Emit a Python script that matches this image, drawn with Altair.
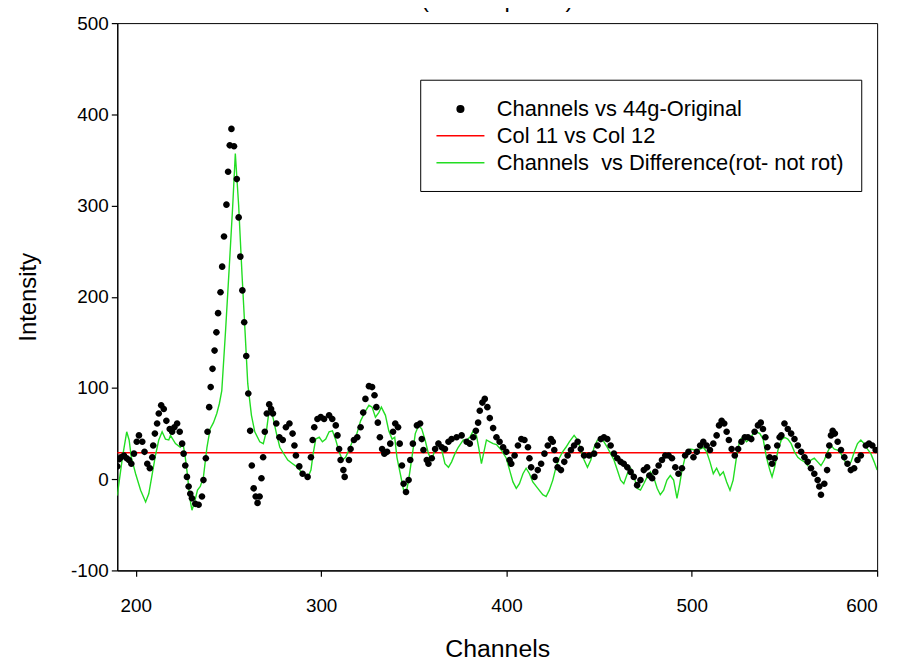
import altair as alt
import pandas as pd

S1 = "Channels vs 44g-Original"
S2 = "Col 11 vs Col 12"
S3 = "Channels\u00a0 vs Difference(rot- not rot)"

x_ticks = [200, 300, 400, 500, 600]
y_ticks = [-100, 0, 100, 200, 300, 400, 500]

dot_ch = [190.0, 191.0, 192.0, 193.6, 195.1, 196.3, 197.6, 199.0, 200.5, 201.7, 203.5, 204.7, 206.2, 207.6, 208.9, 209.4, 210.3, 211.5, 212.4, 213.7,
          215.1, 216.5, 218.3, 219.6, 220.8, 222.3, 223.7, 225.0, 225.8, 226.7, 227.6, 228.5, 229.4, 230.3, 232.1, 233.9, 235.7, 236.5, 237.8, 238.7,
          239.6, 240.4, 241.4, 242.5, 243.5, 244.4, 245.7, 246.6, 247.6, 248.9, 249.8, 250.7, 251.6, 253.0, 254.5, 255.5, 256.4, 257.5, 258.5, 259.6,
          260.7, 261.7, 262.6, 263.6, 264.7, 265.7, 266.8, 267.8, 268.7, 269.6, 270.7, 272.0, 273.0, 274.0, 275.8, 277.5, 279.3, 281.0, 282.9, 284.6,
          285.6, 286.4, 288.2, 290.0, 292.7, 294.5, 295.4, 296.3, 298.0, 299.8, 301.6, 304.3, 306.0, 307.9, 308.8, 309.7, 310.5, 312.0, 312.7, 315.0,
          315.9, 317.7, 319.5, 321.3, 322.7, 323.9, 325.8, 327.5, 328.8, 329.8, 330.6, 331.7, 332.9, 334.1, 335.6, 337.3, 338.8, 340.0, 341.5, 342.4,
          343.6, 344.5, 345.8, 347.2, 348.1, 349.5, 351.7, 353.4, 354.3, 355.2, 357.0, 357.9, 359.7, 361.5, 363.3, 365.1, 366.8, 368.7, 370.4, 373.1,
          375.8, 378.5, 380.2, 382.1, 383.5, 384.7, 385.6, 387.0, 388.3, 389.7, 391.0, 392.8, 394.6, 396.3, 398.2, 399.9, 401.7, 402.6, 404.4, 406.2,
          408.0, 409.7, 411.6, 412.4, 413.3, 415.1, 416.9, 418.7, 420.5, 422.3, 424.0, 425.0, 425.8, 426.7, 427.6, 429.4, 431.2, 433.0, 434.8, 436.5,
          438.4, 440.1, 441.9, 444.6, 447.3, 449.1, 450.9, 452.6, 454.4, 456.2, 458.0, 459.8, 461.6, 463.3, 465.2, 467.0, 468.7, 470.5, 472.3, 474.1,
          475.9, 477.1, 478.6, 480.3, 482.1, 483.9, 485.7, 487.5, 489.3, 491.1, 492.8, 494.7, 496.4, 498.2, 500.9, 502.7, 504.5, 506.2, 508.0, 509.8,
          511.6, 513.4, 514.7, 516.1, 517.5, 518.8, 520.0, 521.5, 523.2, 525.0, 526.8, 528.6, 530.3, 532.1, 533.9, 535.7, 537.2, 538.4, 539.7, 540.8,
          542.0, 543.3, 544.7, 546.1, 547.4, 548.3, 550.0, 551.8, 553.6, 555.4, 557.2, 559.0, 560.8, 562.5, 564.3, 566.1, 567.9, 568.8, 569.7, 571.5,
          573.0, 573.7, 574.2, 575.1, 576.0, 577.2, 578.7, 580.5, 582.3, 584.0, 585.8, 587.6, 589.4, 591.2, 593.9, 595.6, 597.4, 599.2]
dot_val = [14, 22, 24, 26, 23, 21, 17, 28, 41, 48, 41, 30, 17, 12, 24, 37, 50, 61, 72, 81,
           77, 64, 55, 52, 57, 61, 52, 39, 28, 15, 2.5, -8, -16, -21, -27, -28, -19, -1, 23, 52,
           79, 101, 121, 141, 161, 182, 205, 233, 266, 301, 337, 366, 384, 365, 329, 287, 244, 207, 172, 135,
           94, 53, 15, -10, -19, -26, -19, 1, 24, 52, 72, 82, 77, 72, 61, 46, 43, 57, 61, 50,
           37, 26, 14, 6, 2.5, 24, 43, 57, 66, 68, 66, 70, 66, 59, 48, 33, 21, 10, 2.5, 21,
           33, 43, 46, 57, 73, 88, 102, 101, 92, 79, 62, 46, 33, 28, 30, 39, 52, 61, 57, 39,
           15, -5, -14, -1, 21, 39, 59, 61, 44, 32, 21, 17, 23, 33, 39, 35, 33, 41, 44, 46,
           48, 41, 39, 46, 53, 62, 75, 84, 88, 79, 67, 56, 46, 41, 35, 30, 21, 17, 26, 37,
           44, 43, 35, 23, 13, 2.5, 10, 17, 28, 37, 44, 41, 32, 21, 13, 10, 19, 26, 32, 37,
           41, 33, 26, 26, 28, 37, 44, 46, 44, 37, 28, 23, 19, 17, 13, 8, 2.5, -6.5, -1, 10,
           13, 4, 1, 8, 15, 21, 26, 26, 23, 13, 6, 12, 26, 30, 24, 30, 37, 41, 37, 32,
           39, 48, 59, 64, 61, 52, 43, 33, 26, 33, 41, 46, 46, 44, 52, 59, 62, 55, 46, 35,
           24, 17, 23, 37, 46, 48, 61, 55, 50, 44, 37, 30, 24, 19, 12, 6, -1, -8, -17, -5,
           10, 26, 37, 48, 53, 50, 41, 32, 24, 17, 10, 12, 21, 26, 37, 39, 37, 32]

red_ch = [190, 600]
red_val = [29, 29]

green_ch = [190, 192.8, 195.1, 196.4, 197.6, 199.9, 202.6, 205.3, 207, 208.9, 210.6, 212.4, 214.2, 216, 217.8, 218.7, 221.4, 224, 225.5, 226.7,
            228, 229, 230.3, 231.6, 233.3, 234.8, 236.5, 238.4, 240.1, 241.9, 243.7, 245.1, 246.4, 248.5, 250.5, 252.3, 253.7, 255.5, 257.3, 259,
            260.4, 262.4, 264.2, 266.9, 268.8, 270.5, 271.9, 274, 275.9, 277.7, 279.5, 282, 284.6, 287.3, 290, 292.7, 294.5, 295.7, 297.1, 299,
            300.7, 302.5, 304.3, 306.1, 307.9, 309.7, 311.5, 313.2, 315, 316.8, 319, 321.3, 324, 325.8, 327.5, 329.3, 331.1, 332.5, 334.7, 336.5,
            338.3, 339.7, 340.9, 342.7, 344.5, 345.8, 347.2, 349, 350.8, 352.6, 354.3, 356.1, 357.9, 359.7, 361.5, 363.3, 365.1, 366.8, 368.7, 370.4,
            372.2, 374, 376.7, 378.5, 380.2, 382.1, 383.8, 385, 386.5, 389.2, 391, 392.8, 394.6, 397.2, 399.9, 401.7, 403.5, 405.3, 407, 408.9,
            410.6, 412.4, 414.2, 416.9, 419.6, 421.4, 423.1, 425, 426.7, 428.5, 430.3, 432.1, 433.9, 436.5, 438.4, 440.1, 441.9, 443.7, 445.5, 447.3,
            449.1, 450.9, 452.6, 454.4, 456.2, 458, 459.8, 461.6, 463.3, 465.2, 467, 468.7, 470.5, 472.3, 474.1, 475.9, 477.7, 479.4, 481.3, 483,
            484.8, 486.6, 488.4, 490.2, 492, 493.5, 494.7, 496.4, 499.1, 501.8, 504.5, 506.2, 508, 509.8, 511.6, 513.4, 515.2, 517, 518.8, 520.6,
            522.3, 524.1, 525.9, 527.7, 529.5, 531.3, 533.1, 534.9, 536.7, 538.5, 540.3, 542.1, 543.3, 544.7, 546.5, 548.3, 550, 551.8, 553.6, 555.4,
            557.2, 559, 560.8, 562.5, 564.3, 566.1, 567.9, 569.7, 571.5, 573.3, 575.1, 576.9, 578.7, 580.5, 582.3, 584.1, 585.9, 587.7, 589.4, 591.2,
            593, 594.8, 596.6, 598.4, 600]
green_val = [-18, 24, 52, 43, 24, 6, -12, -25, -16, 6, 26, 43, 52, 44, 43, 48, 39, 35, 39, 24,
             2.5, -19, -34, -26, -12, -8, 2.5, 35, 55, 62, 72, 83, 97, 165, 235, 300, 357, 300, 225, 160,
             105, 70, 52, 41, 39, 53, 75, 68, 50, 35, 29, 21, 17, 13, 6, 1, 10, 28, 44, 46,
             41, 44, 52, 53, 43, 30, 21, 24, 32, 41, 48, 64, 75, 81, 79, 68, 73, 79, 70, 53,
             44, 46, 24, 6, -12, -16, -1, 24, 50, 59, 55, 43, 28, 21, 33, 41, 32, 17, 13, 19,
             28, 35, 43, 43, 46, 53, 48, 35, 17, 43, 41, 39, 38, 32, 23, 10, -3, -10, -5, 6,
             12, 6, -3, -10, -17, -19, -12, -1, 13, 23, 30, 35, 41, 48, 43, 32, 21, 13, 21, 35,
             43, 44, 41, 35, 28, 21, 10, -1, -5, 6, 12, 4, -10, -12, -5, 2.5, 8, 2.5, -10, -17,
             -12, -1, 4, -1, -21, -5, 10, 24, 33, 32, 33, 35, 30, 19, 6, 12, 4, 8, -3, -12,
             -1, 24, 43, 46, 41, 44, 50, 52, 50, 44, 24, 10, 2.5, 13, 32, 43, 46, 44, 39, 30,
             24, 21, 19, 15, 21, 23, 19, 15, 21, 30, 37, 33, 32, 28, 21, 15, 19, 30, 39, 43,
             39, 33, 28, 19, 10]

dots = pd.DataFrame({"ch": dot_ch, "val": dot_val, "series": S1})
lines = pd.concat([
    pd.DataFrame({"ch": red_ch, "val": red_val, "series": S2}),
    pd.DataFrame({"ch": green_ch, "val": green_val, "series": S3}),
], ignore_index=True)

FONT = "Liberation Sans"
domain = [S1, S2, S3]
SYM = 529  # symbol area (23px box)
DOT = "M -0.29 0 A 0.29 0.29 0 1 0 0.29 0 A 0.29 0.29 0 1 0 -0.29 0 Z"
LINE = "M -2.1 0 L 2.1 0"

xscale = alt.Scale(domain=[190, 600], nice=False, zero=False)
yscale = alt.Scale(domain=[-100, 500], nice=False, zero=False)

xaxis = alt.Axis(values=x_ticks, title="Channels", grid=False, tickSize=6, labelPadding=20,
                 titlePadding=22, titleFontSize=25, labelExpr="datum.value + ''")
yaxis = alt.Axis(values=y_ticks, title="Intensity", grid=False, tickSize=6, labelPadding=3,
                 titlePadding=30, labelExpr="datum.value + ''")

legend = alt.Legend(title=None, orient="none", legendX=305, legendY=57,
                    labelFontSize=22, labelFont=FONT, labelColor="black",
                    strokeColor="black", fillColor="white", padding=17, rowPadding=3,
                    symbolOffset=11, labelOffset=24, symbolStrokeWidth=1.5,
                    symbolSize=SYM, labelLimit=500)

color = alt.Color("series:N", scale=alt.Scale(domain=domain, range=["black", "#ff0000", "#22dd22"]),
                  legend=legend)

line_layer = alt.Chart(lines).mark_line(strokeWidth=1.4, clip=True).encode(
    x=alt.X("ch:Q", scale=xscale, axis=xaxis),
    y=alt.Y("val:Q", scale=yscale, axis=yaxis),
    color=color,
    detail="series:N",
    order="ch:Q",
)

point_layer = alt.Chart(dots).mark_point(filled=True, opacity=1, clip=True, size=SYM).encode(
    x=alt.X("ch:Q", scale=xscale),
    y=alt.Y("val:Q", scale=yscale),
    color=color,
    shape=alt.Shape("series:N", scale=alt.Scale(domain=domain, range=[DOT, LINE, LINE]), legend=legend),
)

chart = alt.layer(line_layer, point_layer).properties(
    width=765, height=551,
    padding={"left": 110, "top": 13, "right": 20, "bottom": 92},
    autosize=alt.AutoSizeParams(type="none"),
    background="white",
    title=alt.Title("(L. Scarpellini)", fontSize=24, font=FONT, fontWeight="normal",
                    color="black", offset=2, anchor="middle"),
).configure_view(stroke="black", strokeWidth=1).configure_axis(
    labelFont=FONT, labelFontSize=19, labelColor="black",
    titleFont=FONT, titleFontSize=24, titleFontWeight="normal", titleColor="black",
    domainColor="black", tickColor="black", domainWidth=1.2, tickWidth=1.2,
)

chart.save("out.html", embed_options={"renderer": "svg", "actions": False})
